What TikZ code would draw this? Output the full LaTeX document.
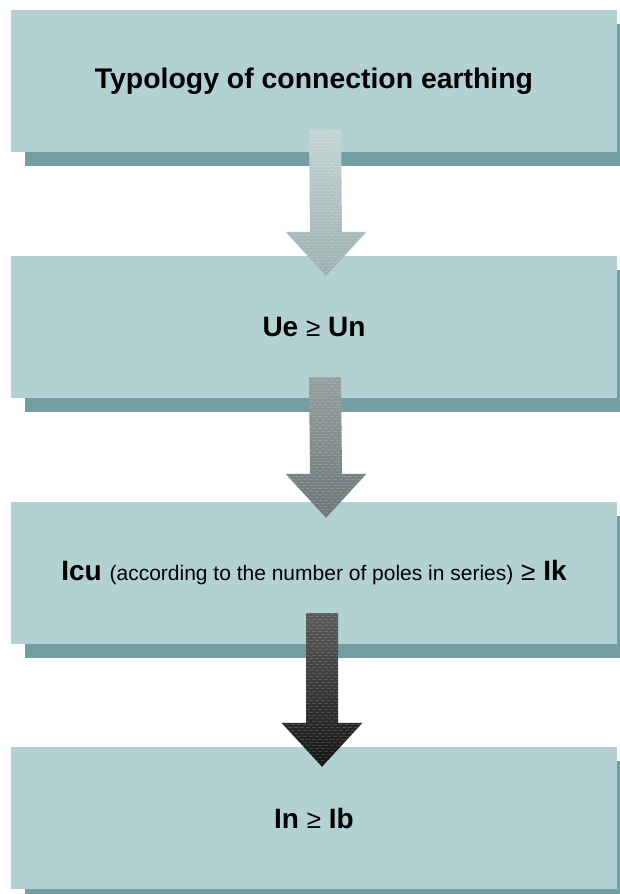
\documentclass[tikz,border=0pt]{standalone}
\usepackage{fontspec}
\setmainfont{Liberation Sans}
\usetikzlibrary{shadows,calc}
\definecolor{boxfill}{HTML}{B3D1D3}
\definecolor{boxshadow}{HTML}{749FA2}
\definecolor{aOneTop}{HTML}{C2D4D4}
\definecolor{aOneBot}{HTML}{9DB0B1}
\definecolor{aTwoTop}{HTML}{95A0A0}
\definecolor{aTwoBot}{HTML}{6E7676}
\definecolor{aThreeTop}{HTML}{5C5C5C}
\definecolor{aThreeBot}{HTML}{141414}
\newcommand{\arrowpath}[2]{($(#1)+(-16,0)$) -- ($(#1)+(16,0)$) -- ($(#2)+(16,-44)$) -- ($(#2)+(40.5,-44)$) -- (#2) -- ($(#2)+(-40.5,-44)$) -- ($(#2)+(-16,-44)$) -- cycle}
\newcommand{\flowarrow}[4]{%
  \shade[top color=#3,bottom color=#4] \arrowpath{#1}{#2};
  \begin{scope}
    \clip \arrowpath{#1}{#2};
    \foreach \k [evaluate=\k as \dx using {-46+3*mod(\k,2)}] in {0,3,...,160}
      \draw[white,opacity=0.15,line width=0.6pt,dash pattern=on 4pt off 2pt]
        ($(#1)+(\dx,\k)$) -- ++(92,0);
  \end{scope}}
\begin{document}
\begin{tikzpicture}[x=1pt,y=-1pt,
  stage/.style={fill=boxfill, minimum width=606pt, minimum height=142pt, inner sep=0pt,
    font=\bfseries\fontsize{28}{32}\selectfont,
    drop shadow={shadow xshift=14pt, shadow yshift=-14pt, fill=boxshadow, opacity=1}},
  rel/.style={}]
\useasboundingbox (0,0) rectangle (619,894);
\node[stage] (b1) at (314,81) {\fontsize{28.4}{32}\selectfont Typology of connection earthing};
\node[stage] (b2) at (314,327) {Ue {\mdseries\fontsize{26}{30}\selectfont ≥} Un};
\node[stage] (b3) at (314,573) {Icu {\mdseries\fontsize{21}{24}\selectfont (according to the number of poles in series)} {\mdseries\fontsize{26}{30}\selectfont ≥} Ik};
\node[stage] (b4) at (314,818) {In {\mdseries\fontsize{26}{30}\selectfont ≥} Ib};
\coordinate (a1t) at ($(b1.south)+(11,-22)$);
\coordinate (a1h) at ($(b2.north)+(12,20)$);
\coordinate (a2t) at ($(b2.south)+(11,-21)$);
\coordinate (a2h) at ($(b3.north)+(12,16)$);
\coordinate (a3t) at ($(b3.south)+(8,-31)$);
\coordinate (a3h) at ($(b4.north)+(8,20)$);
\flowarrow{a1t}{a1h}{aOneTop}{aOneBot}
\flowarrow{a2t}{a2h}{aTwoTop}{aTwoBot}
\flowarrow{a3t}{a3h}{aThreeTop}{aThreeBot}
\end{tikzpicture}
\end{document}
